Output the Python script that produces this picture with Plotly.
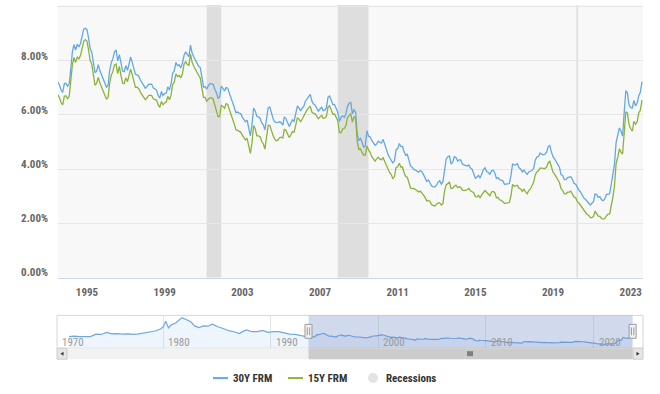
import plotly.graph_objects as go
import pandas as pd

W, H = 660, 394          # reference picture size (positions below are read in these pixels)
FIG_H = 394

# ---------------- data ----------------
MONTH_START = "1993-07-01"

rate_30y = [
    7.21, 7.11, 6.92, 6.83, 7.16, 7.17,                                      # 1993 Jul-Dec
    7.06, 7.15, 7.68, 8.32, 8.60, 8.40, 8.61, 8.51, 8.64, 8.93, 9.17, 9.20,  # 1994
    9.15, 8.83, 8.46, 8.32, 7.96, 7.57, 7.61, 7.86, 7.64, 7.48, 7.38, 7.20,  # 1995
    7.03, 7.08, 7.62, 7.93, 8.07, 8.32, 8.40, 8.00, 8.23, 7.92, 7.62, 7.60,  # 1996
    7.82, 7.65, 7.90, 8.14, 7.94, 7.69, 7.50, 7.48, 7.43, 7.29, 7.21, 7.10,  # 1997
    6.99, 7.04, 7.13, 7.14, 7.14, 7.00, 6.95, 6.92, 6.72, 6.62, 6.87, 6.72,  # 1998
    6.79, 6.81, 7.04, 6.92, 7.15, 7.55, 7.63, 7.94, 7.82, 7.85, 7.74, 7.91,  # 1999
    8.21, 8.33, 8.24, 8.15, 8.58, 8.29, 8.15, 8.03, 7.91, 7.80, 7.75, 7.38,  # 2000
    7.03, 7.05, 6.95, 7.08, 7.15, 7.16, 7.13, 6.95, 6.82, 6.62, 6.66, 7.07,  # 2001
    7.00, 6.89, 7.01, 6.99, 6.81, 6.65, 6.49, 6.29, 6.09, 6.11, 6.07, 6.05,  # 2002
    5.92, 5.84, 5.75, 5.81, 5.48, 5.23, 5.63, 6.26, 6.15, 5.95, 5.93, 5.88,  # 2003
    5.71, 5.64, 5.45, 5.83, 6.27, 6.29, 6.06, 5.87, 5.75, 5.72, 5.73, 5.75,  # 2004
    5.71, 5.63, 5.93, 5.86, 5.72, 5.58, 5.70, 5.82, 5.77, 6.07, 6.33, 6.27,  # 2005
    6.15, 6.25, 6.32, 6.51, 6.60, 6.68, 6.76, 6.52, 6.40, 6.36, 6.24, 6.14,  # 2006
    6.22, 6.29, 6.16, 6.18, 6.26, 6.66, 6.70, 6.57, 6.38, 6.38, 6.21, 6.10,  # 2007
    5.76, 5.92, 5.97, 5.92, 6.04, 6.32, 6.43, 6.48, 6.04, 6.20, 6.09, 5.29,  # 2008
    5.06, 5.13, 5.00, 4.81, 4.86, 5.42, 5.22, 5.19, 5.06, 4.95, 4.88, 4.93,  # 2009
    5.03, 4.99, 4.97, 5.10, 4.89, 4.74, 4.56, 4.43, 4.35, 4.23, 4.30, 4.71,  # 2010
    4.76, 4.95, 4.84, 4.84, 4.64, 4.51, 4.55, 4.27, 4.11, 4.07, 3.99, 3.96,  # 2011
    3.92, 3.89, 3.95, 3.91, 3.80, 3.68, 3.55, 3.60, 3.50, 3.38, 3.35, 3.35,  # 2012
    3.41, 3.53, 3.57, 3.45, 3.54, 4.07, 4.37, 4.46, 4.49, 4.19, 4.26, 4.46,  # 2013
    4.43, 4.30, 4.34, 4.34, 4.19, 4.16, 4.13, 4.12, 4.16, 4.04, 4.00, 3.86,  # 2014
    3.67, 3.71, 3.77, 3.67, 3.84, 3.98, 4.05, 3.91, 3.89, 3.80, 3.94, 3.96,  # 2015
    3.87, 3.66, 3.69, 3.61, 3.60, 3.57, 3.44, 3.44, 3.46, 3.47, 3.77, 4.20,  # 2016
    4.15, 4.17, 4.20, 4.05, 4.01, 3.90, 3.97, 3.88, 3.81, 3.90, 3.92, 3.95,  # 2017
    4.03, 4.33, 4.44, 4.47, 4.59, 4.57, 4.53, 4.55, 4.63, 4.83, 4.87, 4.64,  # 2018
    4.46, 4.37, 4.27, 4.14, 4.07, 3.80, 3.77, 3.62, 3.61, 3.69, 3.70, 3.72,  # 2019
    3.62, 3.47, 3.45, 3.31, 3.23, 3.16, 3.02, 2.94, 2.89, 2.83, 2.77, 2.68,  # 2020
    2.74, 2.81, 3.08, 3.06, 2.96, 2.98, 2.87, 2.84, 2.90, 3.07, 3.07, 3.10,  # 2021
    3.45, 3.76, 4.17, 4.98, 5.23, 5.52, 5.41, 5.22, 6.11, 6.90, 6.81, 6.36,  # 2022
    6.27, 6.26, 6.54, 6.34, 6.43, 6.71, 6.84, 7.23,                          # 2023 Jan-Aug
]

rate_15y = [
    6.75, 6.64, 6.45, 6.37, 6.69, 6.71,                                      # 1993 Jul-Dec
    6.60, 6.70, 7.23, 7.84, 8.12, 7.94, 8.13, 8.07, 8.19, 8.46, 8.72, 8.78,  # 1994
    8.73, 8.39, 8.01, 7.88, 7.50, 7.09, 7.17, 7.39, 7.18, 7.03, 6.94, 6.76,  # 1995
    6.59, 6.64, 7.16, 7.46, 7.60, 7.85, 7.88, 7.53, 7.79, 7.46, 7.18, 7.16,  # 1996
    7.37, 7.23, 7.45, 7.69, 7.49, 7.23, 7.02, 7.03, 6.97, 6.84, 6.76, 6.67,  # 1997
    6.57, 6.62, 6.71, 6.73, 6.72, 6.60, 6.58, 6.55, 6.38, 6.28, 6.50, 6.38,  # 1998
    6.44, 6.48, 6.69, 6.56, 6.73, 7.13, 7.22, 7.52, 7.42, 7.46, 7.37, 7.52,  # 1999
    7.88, 7.97, 7.87, 7.83, 8.25, 7.94, 7.80, 7.68, 7.54, 7.44, 7.36, 6.99,  # 2000
    6.65, 6.65, 6.51, 6.58, 6.63, 6.63, 6.59, 6.37, 6.18, 5.94, 5.94, 6.37,  # 2001
    6.31, 6.25, 6.42, 6.39, 6.20, 6.04, 5.87, 5.68, 5.46, 5.43, 5.40, 5.37,  # 2002
    5.26, 5.17, 5.08, 5.14, 4.86, 4.58, 4.96, 5.61, 5.48, 5.23, 5.23, 5.20,  # 2003
    5.02, 4.93, 4.74, 5.16, 5.62, 5.62, 5.41, 5.24, 5.11, 5.05, 5.07, 5.16,  # 2004
    5.18, 5.15, 5.48, 5.43, 5.30, 5.17, 5.26, 5.39, 5.37, 5.64, 5.89, 5.85,  # 2005
    5.74, 5.85, 5.97, 6.11, 6.19, 6.26, 6.33, 6.11, 6.06, 6.05, 5.93, 5.86,  # 2006
    5.93, 5.99, 5.88, 5.89, 5.95, 6.29, 6.34, 6.21, 6.03, 6.04, 5.88, 5.79,  # 2007
    5.35, 5.35, 5.48, 5.50, 5.60, 5.90, 5.99, 6.04, 5.74, 5.93, 5.88, 5.04,  # 2008
    4.73, 4.75, 4.62, 4.52, 4.52, 4.86, 4.71, 4.62, 4.46, 4.36, 4.30, 4.38,  # 2009
    4.44, 4.37, 4.35, 4.42, 4.27, 4.17, 4.01, 3.88, 3.80, 3.66, 3.72, 4.06,  # 2010
    4.09, 4.22, 4.08, 4.08, 3.87, 3.73, 3.70, 3.44, 3.30, 3.28, 3.29, 3.25,  # 2011
    3.20, 3.16, 3.19, 3.13, 3.04, 2.95, 2.83, 2.85, 2.81, 2.69, 2.65, 2.64,  # 2012
    2.71, 2.76, 2.76, 2.68, 2.73, 3.20, 3.42, 3.49, 3.52, 3.29, 3.30, 3.37,  # 2013
    3.41, 3.32, 3.35, 3.33, 3.23, 3.22, 3.22, 3.25, 3.29, 3.20, 3.16, 3.13,  # 2014
    2.99, 2.98, 3.04, 2.94, 3.06, 3.16, 3.21, 3.15, 3.09, 3.02, 3.16, 3.18,  # 2015
    3.14, 2.94, 2.96, 2.87, 2.85, 2.81, 2.74, 2.75, 2.76, 2.77, 3.02, 3.44,  # 2016
    3.37, 3.39, 3.41, 3.30, 3.27, 3.18, 3.26, 3.17, 3.09, 3.21, 3.27, 3.39,  # 2017
    3.52, 3.79, 3.90, 3.94, 4.04, 4.04, 4.02, 4.02, 4.08, 4.23, 4.29, 4.08,  # 2018
    3.89, 3.81, 3.71, 3.60, 3.51, 3.28, 3.22, 3.09, 3.09, 3.15, 3.15, 3.19,  # 2019
    3.06, 2.97, 2.95, 2.80, 2.75, 2.67, 2.55, 2.48, 2.39, 2.33, 2.30, 2.21,  # 2020
    2.21, 2.26, 2.45, 2.36, 2.27, 2.26, 2.18, 2.16, 2.18, 2.28, 2.34, 2.35,  # 2021
    2.62, 2.98, 3.39, 4.20, 4.43, 4.75, 4.63, 4.56, 5.35, 6.12, 6.07, 5.64,  # 2022
    5.49, 5.40, 5.77, 5.66, 5.74, 6.08, 6.17, 6.55,                          # 2023 Jan-Aug
]

# navigator history of the 30Y rate before the visible window
nav_early_dates = [
    "1971-04-01", "1971-10-01", "1972-04-01", "1972-10-01", "1973-04-01", "1973-10-01",
    "1974-04-01", "1974-10-01", "1975-04-01", "1975-10-01", "1976-04-01", "1976-10-01",
    "1977-04-01", "1977-10-01", "1978-04-01", "1978-10-01", "1979-04-01", "1979-10-01",
    "1980-01-01", "1980-04-01", "1980-07-01", "1980-10-01", "1981-03-01", "1981-10-01",
    "1982-03-01", "1982-08-01", "1982-12-01", "1983-05-01", "1983-10-01", "1984-03-01",
    "1984-08-01", "1985-02-01", "1985-08-01", "1986-02-01", "1986-08-01", "1987-02-01",
    "1987-06-01", "1987-10-01", "1988-04-01", "1988-10-01", "1989-04-01", "1989-10-01",
    "1990-04-01", "1990-10-01", "1991-04-01", "1991-10-01", "1992-04-01", "1992-10-01",
    "1993-03-01",
]
nav_early_30y = [
    7.33, 7.65, 7.35, 7.45, 7.35, 8.80, 8.60, 9.80, 9.00, 9.10, 8.80, 9.00,
    8.70, 8.90, 9.40, 9.90, 10.60, 11.80, 12.90, 16.30, 12.40, 14.20, 15.30, 18.40,
    17.40, 16.00, 13.60, 12.60, 13.60, 13.40, 14.60, 13.10, 12.10, 10.80, 10.20, 9.10,
    10.40, 11.30, 10.20, 10.30, 11.00, 9.80, 10.30, 10.20, 9.50, 8.80, 8.60, 8.00,
    7.60,
]

recession_start = ["2001-03-01", "2007-12-01", "2020-03-15"]
recession_end = ["2001-11-30", "2009-06-30", "2020-04-15"]

main_range = ["1993-07-05", "2023-08-20"]
nav_range = ["1970-02-20", "2024-08-05"]
y_range = [0, 10.06]
nav_y_range = [0.6, 19.7]
nav_year_labels = ["1970", "1980", "1990", "2000", "2010", "2020"]
y_tick_vals = [0, 2, 4, 6, 8, 10]
y_tick_text = ["0.00%", "2.00%", "4.00%", "6.00%", "8.00%", ""]
series_names = ["30Y FRM", "15Y FRM", "Recessions"]

# ---------------- style ----------------
BLUE = "#62a9e4"
GREEN = "#8ab33a"
REC_GRAY = "#dedede"
NARROW = "Liberation Sans Narrow, Arial Narrow, Roboto Condensed, DejaVu Sans Condensed, sans-serif"


def px(x):
    """reference pixel x -> paper fraction"""
    return x / W


def py(y):
    """reference pixel y (from top) -> paper fraction"""
    return 1 - y / H


dates = pd.date_range(MONTH_START, periods=len(rate_30y), freq="MS")

fig = go.Figure()
fig.add_trace(go.Scatter(x=dates, y=rate_30y, mode="lines", name=series_names[0],
                         line=dict(color=BLUE, width=1.3), xaxis="x", yaxis="y",
                         showlegend=False))
fig.add_trace(go.Scatter(x=dates, y=rate_15y, mode="lines", name=series_names[1],
                         line=dict(color=GREEN, width=1.3), xaxis="x", yaxis="y",
                         showlegend=False))

nav_x = list(pd.to_datetime(nav_early_dates)) + list(dates)
nav_y = nav_early_30y + rate_30y
fig.add_trace(go.Scatter(x=nav_x, y=nav_y, mode="lines", name="navigator",
                         line=dict(color="#6fa9df", width=1.2), fill="tozeroy",
                         fillcolor="rgba(120,176,228,0.12)", xaxis="x2", yaxis="y2",
                         showlegend=False, hoverinfo="skip"))

PLOT_TOP, PLOT_BOT = 5, 279

shapes = []
# main plot background
shapes.append(dict(type="rect", xref="paper", yref="paper", x0=px(58), x1=px(643),
                   y0=py(PLOT_BOT), y1=py(PLOT_TOP), fillcolor="#f8f8f8", line_width=0,
                   layer="below"))
# recessions
for s, e in zip(recession_start, recession_end):
    shapes.append(dict(type="rect", xref="x", yref="paper", x0=s, x1=e,
                       y0=py(PLOT_BOT), y1=py(PLOT_TOP), fillcolor=REC_GRAY, line_width=0,
                       layer="below"))

# navigator outline
shapes.append(dict(type="rect", xref="paper", yref="paper", x0=px(57), x1=px(643),
                   y0=py(350), y1=py(317), line=dict(color="#d6d6d6", width=1),
                   fillcolor="rgba(0,0,0,0)", layer="above"))
# navigator mask over selected range
shapes.append(dict(type="rect", xref="x2", yref="paper", x0=main_range[0], x1=main_range[1],
                   y0=py(350), y1=py(317), fillcolor="rgba(102,133,194,0.3)",
                   line_width=0, layer="above"))
# scrollbar track
shapes.append(dict(type="rect", xref="paper", yref="paper", x0=px(57), x1=px(643),
                   y0=py(361), y1=py(350), fillcolor="#f2f2f2", line_width=0,
                   layer="above"))
# scrollbar thumb
shapes.append(dict(type="rect", xref="x2", yref="paper", x0=main_range[0], x1=main_range[1],
                   y0=py(361), y1=py(350), fillcolor="#cccccc", line_width=0, layer="above"))
# scrollbar buttons
for a, b in [(57, 67), (633, 643)]:
    shapes.append(dict(type="rect", xref="paper", yref="paper", x0=px(a), x1=px(b),
                       y0=py(361), y1=py(350), fillcolor="#e6e6e6",
                       line=dict(color="#cccccc", width=1), layer="above"))
# arrows
shapes.append(dict(type="path", xref="paper", yref="paper",
                   path=f"M {px(63.5)} {py(353.5)} L {px(60.5)} {py(355.5)} L {px(63.5)} {py(357.5)} Z",
                   fillcolor="#333333", line_width=0, layer="above"))
shapes.append(dict(type="path", xref="paper", yref="paper",
                   path=f"M {px(636.5)} {py(353.5)} L {px(639.5)} {py(355.5)} L {px(636.5)} {py(357.5)} Z",
                   fillcolor="#333333", line_width=0, layer="above"))
# rifles
for dx in (-2, 0, 2):
    shapes.append(dict(type="line", xref="paper", yref="paper",
                       x0=px(470 + dx), x1=px(470 + dx), y0=py(353), y1=py(358),
                       line=dict(color="#333333", width=1), layer="above"))
# navigator handles
for d in main_range:
    shapes.append(dict(type="rect", xref="x2", yref="paper", xsizemode="pixel", xanchor=d,
                       x0=-3.5, x1=3.5, y0=py(340), y1=py(326), fillcolor="#f2f2f2",
                       line=dict(color="#999999", width=1), layer="above"))
    for dx in (-1.2, 1.2):
        shapes.append(dict(type="line", xref="x2", yref="paper", xsizemode="pixel",
                           xanchor=d, x0=dx, x1=dx, y0=py(337), y1=py(329),
                           line=dict(color="#999999", width=1), layer="above"))

# legend symbols
shapes.append(dict(type="line", xref="paper", yref="paper", x0=px(213), x1=px(228),
                   y0=py(380), y1=py(380), line=dict(color=BLUE, width=2)))
shapes.append(dict(type="line", xref="paper", yref="paper", x0=px(288), x1=px(303),
                   y0=py(380), y1=py(380), line=dict(color=GREEN, width=2)))
shapes.append(dict(type="circle", xref="paper", yref="paper", x0=px(368), x1=px(378),
                   y0=py(385), y1=py(375), fillcolor="#e3e3e3", line_width=0))

annotations = []
for i, lbl in enumerate(nav_year_labels):
    # the first label's gridline lies just left of the navigator start
    ax = nav_range[0] if i == 0 else f"{lbl}-01-01"
    annotations.append(dict(x=ax, xref="x2", y=py(344), yref="paper",
                            text=lbl, showarrow=False, xanchor="left", yanchor="middle",
                            xshift=3, font=dict(family=NARROW, size=11, color="#999999")))
for name, x0 in zip(series_names, [231, 306, 384]):
    annotations.append(dict(x=px(x0), xref="paper", y=py(380), yref="paper", text=name,
                            showarrow=False, xanchor="left", yanchor="middle",
                            font=dict(family=NARROW, size=11, color="#333333", weight="bold")))

tickfont = dict(family=NARROW, size=11, color="#666666", weight="bold")

fig.update_layout(
    width=W, height=FIG_H, autosize=False,
    margin=dict(l=0, r=0, t=0, b=0),
    paper_bgcolor="white", plot_bgcolor="rgba(0,0,0,0)",
    showlegend=False,
    xaxis=dict(domain=[px(58), px(643)], anchor="y", type="date", range=main_range,
               tick0="1995-01-01", dtick="M48", tickformat="%Y", showgrid=False,
               showline=True, linecolor="#ccd6eb", linewidth=1, ticks="",
               tickfont=tickfont, ticklabelstandoff=4, zeroline=False),
    yaxis=dict(domain=[py(PLOT_BOT), py(PLOT_TOP)], anchor="x", range=y_range,
               tickvals=y_tick_vals, ticktext=y_tick_text, showgrid=True,
               gridcolor="#e6e6e6", gridwidth=1, zeroline=False, showline=False,
               tickfont=tickfont, ticklabelstandoff=9, ticklabelshift=-5),
    xaxis2=dict(domain=[px(57), px(643)], anchor="y2", type="date", range=nav_range,
                tick0="1970-01-01", dtick="M120", showgrid=True, gridcolor="#e6e6e6",
                showticklabels=False, showline=False, zeroline=False, ticks=""),
    yaxis2=dict(domain=[py(350), py(317)], anchor="x2", range=nav_y_range,
                visible=False, showgrid=False, zeroline=False),
    shapes=shapes,
    annotations=annotations,
)

# drop the page's default body margin so the figure starts at the window origin
page_fix = "document.body.style.margin='0';"

fig.write_html("out.html", post_script=page_fix, config={"displayModeBar": False})
